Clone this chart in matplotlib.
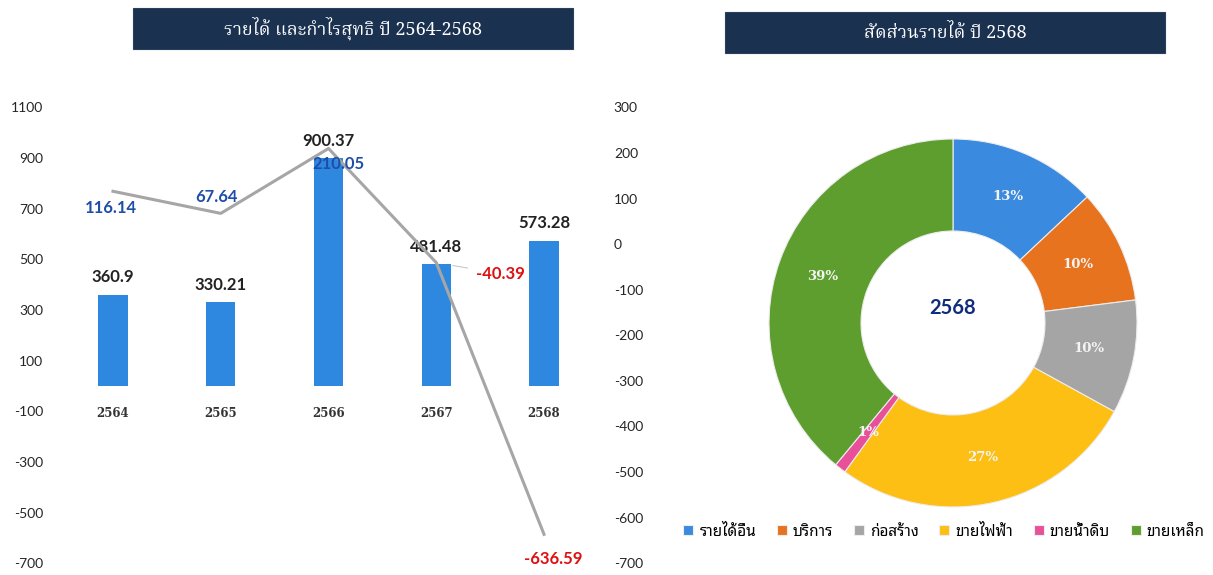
import matplotlib
matplotlib.use("Agg")
import matplotlib.pyplot as plt
from matplotlib.patches import Rectangle
import numpy as np

# ---------------- data ----------------
years = ["2564", "2565", "2566", "2567", "2568"]
revenue = [360.9, 330.21, 900.37, 481.48, 573.28]
net_profit = [116.14, 67.64, 210.05, -40.39, -636.59]

left_ticks = [1100, 900, 700, 500, 300, 100, -100, -300, -500, -700]
right_ticks = [300, 200, 100, 0, -100, -200, -300, -400, -500, -600, -700]

share_labels = ["รายได้อื่น", "บริการ", "ก่อสร้าง", "ขายไฟฟ้า", "ขายน้ำดิบ", "ขายเหล็ก"]
share_values = [13, 10, 10, 27, 1, 39]
share_colors = ["#3A8AE0", "#E8731E", "#A5A5A5", "#FDBF14", "#E8509A", "#5E9E2E"]

title_left = "รายได้ และกำไรสุทธิ ปี 2564-2568"
title_right = "สัดส่วนรายได้ ปี 2568"
center_label = "2568"

# ---------------- figure ----------------
W, H = 1213, 575
fig = plt.figure(figsize=(W / 100, H / 100), dpi=100)
fig.patch.set_facecolor("white")

def fx(px):
    return px / W

def fy(py):
    return 1 - py / H

NUM = ["Lato", "DejaVu Sans"]
THAI_SERIF = ["Noto Serif Thai", "DejaVu Serif"]
THAI_SANS = ["Noto Sans Thai Looped", "DejaVu Sans"]

# ---------------- left combo chart ----------------
ax_l, ax_r, ax_b, ax_t = 59.1, 597.9, 563.2, 107.5
ax = fig.add_axes([fx(ax_l), fy(ax_b), fx(ax_r - ax_l), (ax_b - ax_t) / H])
ax.spines["bottom"].set_position(("data", 0))
for s in ax.spines.values():
    s.set_visible(False)
x = np.arange(len(years))
ax.bar(x, revenue, width=0.27, color="#2E88E0", zorder=2)
ax.set_xlim(-0.5, len(years) - 0.5)
ax.set_ylim(-700, 1100)
ax.set_yticks(left_ticks)
ax.set_yticklabels([str(v) for v in left_ticks], family=NUM, fontsize=10, color="#262626")
ax.tick_params(axis="y", length=0, pad=11.5)
ax.set_xticks(x)
ax.set_xticklabels(years, family="DejaVu Serif", fontweight="bold", fontsize=8.5, color="#333333")
ax.tick_params(axis="x", length=0, pad=15)

for xi, v in zip(x, revenue):
    ax.annotate(f"{v:g}", (xi, v), xytext=(0, 12.5), textcoords="offset points",
                ha="center", va="center", family=NUM, fontweight="bold",
                fontsize=12, color="#222222", zorder=5, annotation_clip=False)

ax2 = ax.twinx()
for s in ax2.spines.values():
    s.set_visible(False)
ax2.set_ylim(-700, 300)
ax2.set_yticks(right_ticks)
ax2.set_yticklabels([str(v) for v in right_ticks], family=NUM, fontsize=10, color="#262626")
ax2.tick_params(axis="y", length=0, pad=11.5)
ax2.plot(x, net_profit, color="#A6A6A6", lw=2.2, solid_joinstyle="round", zorder=3)

profit_offsets = [(-1.5, -12.2), (-3, 12), (7, -11.5), (46, -8), (7, -18)]
for xi, v, off in zip(x, net_profit, profit_offsets):
    col = "#1F4EA8" if v >= 0 else "#E01010"
    kw = {}
    if v < 0 and v > -100:
        kw["arrowprops"] = dict(arrowstyle="-", color="#C8C8C8", lw=0.8, shrinkA=4, shrinkB=12)
    ax2.annotate(f"{v:g}", (xi, v), xytext=off, textcoords="offset points",
                 ha="center", va="center", family=NUM, fontweight="bold",
                 fontsize=12, color=col, zorder=6, annotation_clip=False, **kw)

# ---------------- title boxes ----------------
def title_box(x0, y0, x1, y1, text, fs):
    fig.patches.append(Rectangle((fx(x0), fy(y1)), fx(x1 - x0), (y1 - y0) / H,
                                 transform=fig.transFigure, facecolor="#1B3150",
                                 edgecolor="#2A3F5C", lw=0.8, zorder=0))
    fig.text(fx((x0 + x1) / 2), fy((y0 + y1) / 2), text, ha="center", va="center",
             color="white", family=THAI_SERIF, fontsize=fs)

title_box(133, 8, 573, 49, title_left, 13)
title_box(725, 12, 1165, 53, title_right, 13)

# ---------------- donut ----------------
cx, cy, R = 953, 323, 184
pax = fig.add_axes([fx(cx - R), fy(cy + R), fx(2 * R), 2 * R / H])
wedges, _, autotexts = pax.pie(
    share_values, colors=share_colors, startangle=90, counterclock=False,
    radius=1.0, autopct=lambda p: f"{p:.0f}%", pctdistance=0.75,
    wedgeprops=dict(width=0.5, edgecolor="#EDEDED", linewidth=0.8),
    textprops=dict(color="#F4F4F4", family="DejaVu Serif", fontweight="bold", fontsize=9.5))
pax.set_xlim(-1, 1)
pax.set_ylim(-1, 1)
pax.set_aspect("equal")
pax.axis("off")
pax.text(0, 0.08, center_label, ha="center", va="center", family=NUM,
         fontweight="bold", fontsize=14.5, color="#0F2B7C")

fig.legend(wedges, share_labels, loc="center", bbox_to_anchor=(fx(944), fy(532)),
           ncol=6, frameon=False, prop=dict(family=THAI_SANS, size=11, weight="medium"),
           handlelength=0.65, handleheight=0.65, handletextpad=0.4, columnspacing=1.35)

fig.savefig("out.png", dpi=100, facecolor="white")
